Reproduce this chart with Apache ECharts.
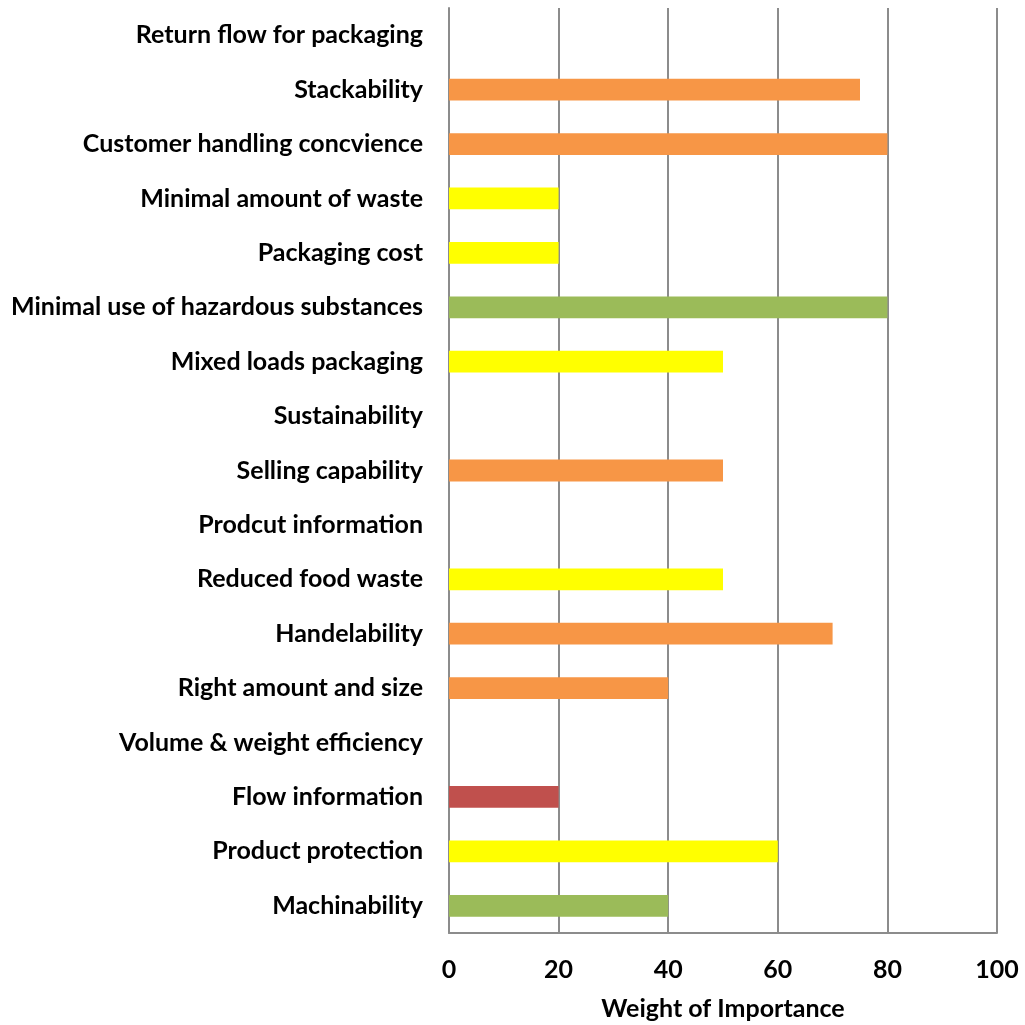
<!DOCTYPE html>
<html>
<head>
<meta charset="utf-8">
<script src="https://cdn.jsdelivr.net/npm/echarts@6/dist/echarts.min.js"></script>
<style>
  html, body { margin: 0; padding: 0; background: #fff; }
  #chart { width: 1025px; height: 1025px; }
</style>
</head>
<body>
<div id="chart"></div>
<script>
// Packaging criteria, listed bottom to top
const categories = [
  'Machinability',
  'Product protection',
  'Flow information',
  'Volume & weight efficiency',
  'Right amount and size',
  'Handelability',
  'Reduced food waste',
  'Prodcut information',
  'Selling capability',
  'Sustainability',
  'Mixed loads packaging',
  'Minimal use of hazardous substances',
  'Packaging cost',
  'Minimal amount of waste',
  'Customer handling concvience',
  'Stackability',
  'Return flow for packaging'
];

const weights = [40, 60, 20, 0, 40, 70, 50, 0, 50, 0, 50, 80, 20, 20, 80, 75, 0];

// Group of each criterion (drives the bar colour)
const groups = ['green', 'yellow', 'red', 'orange', 'orange', 'orange', 'yellow', 'orange',
                'orange', 'orange', 'yellow', 'green', 'yellow', 'yellow', 'orange', 'orange', 'orange'];

const xTicks = [0, 20, 40, 60, 80, 100];

const palette = {
  orange: '#F79646',
  yellow: '#FFFF00',
  green: '#9BBB59',
  red: '#C0504D'
};

const FONT = 'Lato, "Open Sans", sans-serif';
const chart = echarts.init(document.getElementById('chart'), null, { renderer: 'canvas' });

chart.setOption({
  animation: false,
  backgroundColor: '#ffffff',
  grid: { left: 449, right: 28, top: 8, bottom: 92, containLabel: false, outerBoundsMode: 'none' },
  xAxis: {
    type: 'value',
    min: xTicks[0],
    max: xTicks[xTicks.length - 1],
    interval: xTicks[1] - xTicks[0],
    name: 'Weight of Importance',
    nameLocation: 'middle',
    nameGap: 63,
    nameTextStyle: { fontFamily: FONT, fontWeight: 'bold', fontSize: 25, color: '#000' },
    axisLine: { show: true, lineStyle: { color: '#8c8c8c', width: 2 } },
    axisTick: { show: false },
    axisLabel: { fontFamily: FONT, fontWeight: 'bold', fontSize: 25, color: '#000', margin: 24 },
    splitLine: { show: true, lineStyle: { color: '#8c8c8c', width: 2 } }
  },
  yAxis: {
    type: 'category',
    data: categories,
    axisLine: { show: true, lineStyle: { color: '#8c8c8c', width: 2 } },
    axisTick: { show: false },
    axisLabel: { fontFamily: FONT, fontWeight: 'bold', fontSize: 25, color: '#000', margin: 26 },
    splitLine: { show: false }
  },
  series: [{
    type: 'bar',
    barWidth: '40%',
    data: weights.map((v, i) => ({ value: v, itemStyle: { color: palette[groups[i]] } }))
  }]
});
</script>
</body>
</html>
